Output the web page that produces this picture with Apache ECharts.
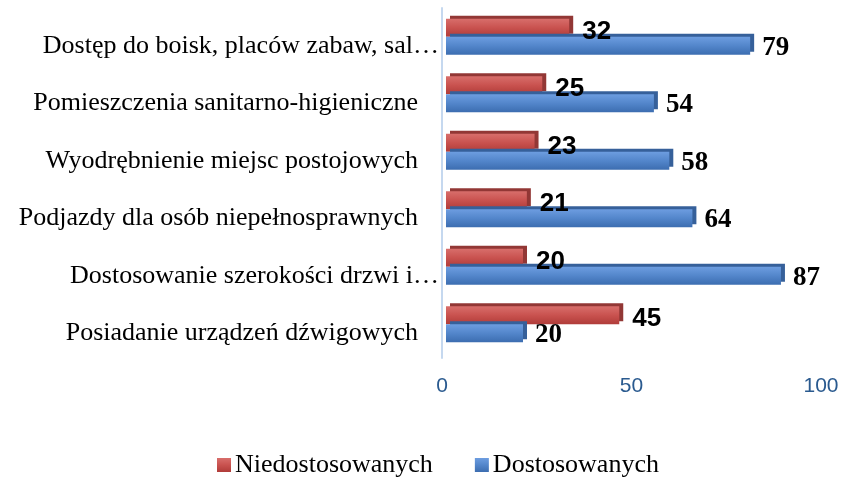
<!DOCTYPE html>
<html>
<head>
<meta charset="utf-8">
<script src="https://cdn.jsdelivr.net/npm/echarts@6/dist/echarts.min.js"></script>
<style>
    html, body { margin: 0; padding: 0; background: #fff; }
    #chart { width: 844px; height: 478px; }
</style>
</head>
<body>
<div id="chart"></div>
<script>
'use strict';
{
    // categories bottom -> top
    const categories = [
        'Posiadanie urządzeń dźwigowych',
        'Dostosowanie szerokości drzwi i…',
        'Podjazdy dla osób niepełnosprawnych',
        'Wyodrębnienie miejsc postojowych',
        'Pomieszczenia sanitarno-higieniczne',
        'Dostęp do boisk, placów zabaw, sal…'
    ];
    const niedostosowanych = [45, 20, 21, 23, 25, 32];
    const dostosowanych = [20, 87, 64, 58, 54, 79];
    const xTicks = [0, 50, 100];

    let dom = document.getElementById('chart');
    let myChart = echarts.init(dom);
    let option = null;

    // truncated labels sit a bit further right, like in the original
    let yLabels = categories.map(function (c) {
        let cut = c.endsWith('…');
        return {
            value: c,
            textStyle: { padding: [0, cut ? 0 : 21, 0, 0] }
        };
    });

    option = {
        animation: false,
        legend: {
            data: ['Niedostosowanych', 'Dostosowanych'],
            left: 217,
            top: 452,
            padding: 0,
            itemWidth: 14,
            itemHeight: 14,
            itemGap: 42,
            icon: 'rect',
            textStyle: {
                fontFamily: 'Liberation Serif',
                fontSize: 26,
                color: '#000',
                padding: [0, 0, 0, -1]
            }
        },
        grid: [
            // bars
            { left: 446, top: 8, width: 385, height: 345 },
            // category labels (sit a little lower than the bars) and x labels
            { left: 442, top: 17, width: 379, height: 345 },
            // vertical axis line
            { left: 442, top: 8, width: 379, height: 350 }
        ],
        xAxis: [{
            gridIndex: 0,
            type: 'value',
            min: 0,
            max: 100,
            show: false
        }, {
            gridIndex: 1,
            type: 'value',
            min: xTicks[0],
            max: xTicks[xTicks.length - 1],
            interval: xTicks[1] - xTicks[0],
            axisLine: { show: false },
            axisTick: { show: false },
            splitLine: { show: false },
            axisLabel: {
                margin: 14,
                fontFamily: 'Liberation Sans',
                fontSize: 21,
                color: '#2a5a8f'
            }
        }, {
            gridIndex: 2,
            type: 'value',
            show: false
        }],
        yAxis: [{
            gridIndex: 0,
            type: 'category',
            data: categories,
            show: false
        }, {
            gridIndex: 1,
            type: 'category',
            data: yLabels,
            axisLine: { show: false },
            axisTick: { show: false },
            axisLabel: {
                margin: 3,
                fontFamily: 'Liberation Serif',
                fontSize: 26,
                color: '#000'
            }
        }, {
            gridIndex: 2,
            type: 'category',
            data: categories,
            axisLine: {
                show: true,
                lineStyle: { color: '#c5d8ef', width: 2 }
            },
            axisTick: { show: false },
            axisLabel: { show: false }
        }],
        series: [{
            name: 'Niedostosowanych',
            type: 'bar',
            xAxisIndex: 0,
            yAxisIndex: 0,
            data: niedostosowanych,
            barWidth: 18,
            barGap: '0%',
            itemStyle: {
                color: new echarts.graphic.LinearGradient(0, 0, 0, 1, [
                    { offset: 0, color: '#d86e6b' },
                    { offset: 0.5, color: '#c9524f' },
                    { offset: 1, color: '#b03c39' }
                ]),
                shadowColor: '#923735',
                shadowOffsetX: 4,
                shadowOffsetY: -3,
                shadowBlur: 0
            },
            label: {
                show: true,
                position: 'right',
                distance: 13,
                offset: [0, 4],
                fontFamily: 'Liberation Sans',
                fontWeight: 'bold',
                fontSize: 26,
                color: '#000'
            }
        }, {
            name: 'Dostosowanych',
            type: 'bar',
            xAxisIndex: 0,
            yAxisIndex: 0,
            data: dostosowanych,
            barWidth: 18,
            barGap: '0%',
            itemStyle: {
                color: new echarts.graphic.LinearGradient(0, 0, 0, 1, [
                    { offset: 0, color: '#6d9de0' },
                    { offset: 0.5, color: '#5386cb' },
                    { offset: 1, color: '#3c6db0' }
                ]),
                shadowColor: '#36609a',
                shadowOffsetX: 4,
                shadowOffsetY: -3,
                shadowBlur: 0
            },
            label: {
                show: true,
                position: 'right',
                distance: 12,
                offset: [0, 2],
                fontFamily: 'Liberation Serif',
                fontWeight: 'bold',
                fontSize: 27,
                color: '#000'
            }
        }],
        color: ['#c0504d', '#4f81bd']
    };

    if (option && typeof option === 'object') {
        myChart.setOption(option, true);
    }
}
</script>
</body>
</html>
